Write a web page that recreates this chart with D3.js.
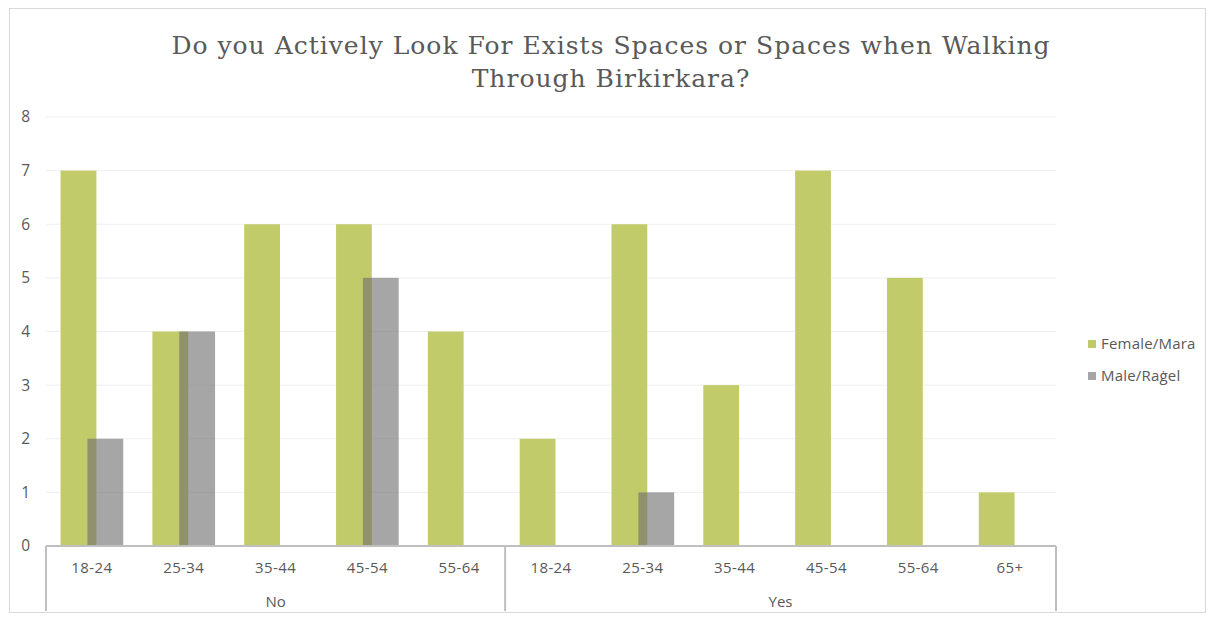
<!DOCTYPE html>
<html><head><meta charset="utf-8">
<script src="https://cdn.jsdelivr.net/npm/d3@7"></script>
<style>body{margin:0;background:#fff}svg{display:block}</style>
</head><body>
<script>
const groups = ["No","Yes"];
const ageNo = ["18-24","25-34","35-44","45-54","55-64"];
const ageYes = ["18-24","25-34","35-44","45-54","55-64","65+"];
const femaleNo = [7,4,6,6,4];
const femaleYes = [2,6,3,7,5,1];
const maleNo = [2,4,0,5,0];
const maleYes = [0,1,0,0,0,0];
const seriesNames = ["Female/Mara","Male/Raġel"];
const yTicks = [0,1,2,3,4,5,6,7,8];

(function(){
const rows = [];
ageNo.forEach((a,i)=>rows.push({group:"No",age:a,key:"No|"+a,f:femaleNo[i],m:maleNo[i]}));
ageYes.forEach((a,i)=>rows.push({group:"Yes",age:a,key:"Yes|"+a,f:femaleYes[i],m:maleYes[i]}));

const W=1208,H=617;
const svg=d3.select("body").append("svg").attr("width",W).attr("height",H);
const mL=46,mR=1056,mT=117,mB=546;
const font="'Open Sans', 'Liberation Sans', sans-serif";
const txt="#595959";

svg.append("rect").attr("x",9.5).attr("y",8.5).attr("width",1196).attr("height",604)
  .attr("fill","none").attr("stroke","#d9d9d9");

const x=d3.scaleBand().domain(rows.map(r=>r.key)).range([mL,mR]).paddingInner(0).paddingOuter(0);
const y=d3.scaleLinear().domain([0,8]).range([mB,mT]);

svg.append("g").selectAll("line").data(yTicks.filter(t=>t>0)).join("line")
  .attr("x1",mL).attr("x2",mR).attr("y1",d=>y(d)).attr("y2",d=>y(d))
  .attr("stroke","#efefef").attr("stroke-width",1);

svg.append("g").selectAll("text").data(yTicks).join("text")
  .attr("x",30).attr("y",d=>y(d)).attr("dy","0.35em").attr("text-anchor","end")
  .attr("font-family",font).attr("font-size",15.5).attr("fill",txt).text(d=>d);

const bw=x.bandwidth();
const barW=bw*0.39, off=barW*0.75;
const gStart=(bw-(barW+off))/2;

svg.append("g").selectAll("rect").data(rows).join("rect")
  .attr("x",d=>x(d.key)+gStart).attr("width",barW)
  .attr("y",d=>y(d.f)).attr("height",d=>y(0)-y(d.f)).attr("fill","#c2cb6a");
svg.append("g").selectAll("rect").data(rows.filter(r=>r.m>0)).join("rect")
  .attr("x",d=>x(d.key)+gStart+off).attr("width",barW)
  .attr("y",d=>y(d.m)).attr("height",d=>y(0)-y(d.m)).attr("fill","#707070").attr("fill-opacity",0.62);

const ax=svg.append("g").attr("stroke","#bfbfbf").attr("stroke-width",2);
ax.append("line").attr("x1",mL).attr("x2",mR).attr("y1",mB).attr("y2",mB);
const sepX=[mL, x("Yes|18-24"), mR];
ax.selectAll("line.sep").data(sepX).join("line").attr("class","sep")
  .attr("x1",d=>d).attr("x2",d=>d).attr("y1",mB).attr("y2",611);

svg.append("g").selectAll("text").data(rows).join("text")
  .attr("x",d=>x(d.key)+bw/2).attr("y",573).attr("text-anchor","middle")
  .attr("font-family",font).attr("font-size",15).attr("letter-spacing",0.4).attr("fill",txt).text(d=>d.age);
svg.append("g").selectAll("text").data(groups).join("text")
  .attr("x",g=>{const ks=rows.filter(r=>r.group===g);return (x(ks[0].key)+x(ks[ks.length-1].key)+bw)/2;})
  .attr("y",607).attr("text-anchor","middle")
  .attr("font-family",font).attr("font-size",15).attr("fill",txt).text(d=>d);

const title=svg.append("text").attr("text-anchor","middle").attr("font-family","'DejaVu Serif', serif")
  .attr("font-size",25).attr("letter-spacing",1).attr("fill",txt);
title.append("tspan").attr("x",611).attr("y",54).text("Do you Actively Look For Exists Spaces or Spaces when Walking");
title.append("tspan").attr("x",611).attr("y",87).text("Through Birkirkara?");

const lg=svg.append("g").selectAll("g").data(seriesNames).join("g")
  .attr("transform",(d,i)=>`translate(1088,${344+i*32})`);
lg.append("rect").attr("x",0).attr("y",-4).attr("width",8).attr("height",8)
  .attr("fill",(d,i)=>i?"#a6a6a6":"#c2cb6a");
lg.append("text").attr("x",13).attr("dy","0.35em").attr("font-family",font).attr("font-size",15)
  .attr("letter-spacing",0.2).attr("fill",txt).text(d=>d);
})();
</script>
</body></html>
